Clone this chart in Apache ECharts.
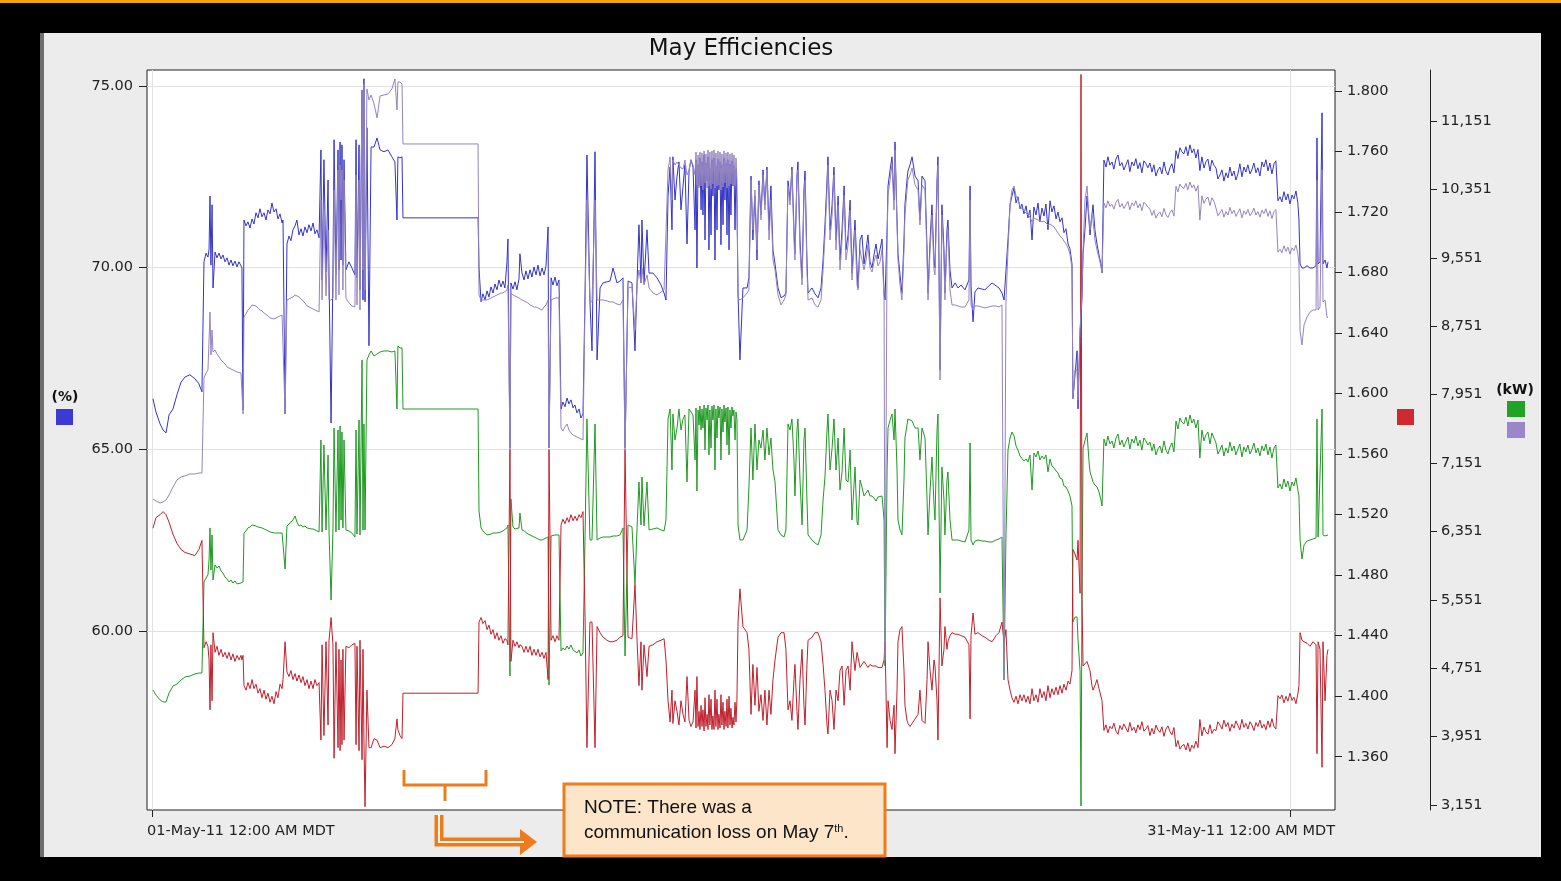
<!DOCTYPE html>
<html>
<head>
<meta charset="utf-8">
<title>May Efficiencies</title>
<script src="https://cdn.jsdelivr.net/npm/echarts@6/dist/echarts.min.js"></script>
<style>
  html, body { margin: 0; padding: 0; background: #000; }
  #chart { width: 1561px; height: 881px; }
</style>
</head>
<body>
<div id="chart"></div>
<script>
// Hours elapsed since 01-May-11 12:00 AM MDT (shared time stamps of all four traces)
const hours = [
  0.6,2.5,5.1,7.0,8.9,10.8,13.3,15.8,18.4,20.9,24.0,27.2,29.7,31.6,
  32.9,34.2,35.4,36.1,36.7,37.3,38.0,38.6,39.9,41.1,42.4,43.7,44.9,46.2,47.5,48.7,50.0,51.2,52.5,53.8,55.0,56.3,56.9,57.6,
  58.2,59.5,60.7,62.0,63.3,64.5,65.8,67.1,68.3,69.6,70.9,72.1,73.4,74.7,75.9,77.2,78.5,79.7,81.0,82.3,82.9,84.2,
  85.4,86.7,87.9,89.2,90.5,91.7,93.0,94.3,95.5,96.8,98.1,99.3,100.6,101.9,103.1,104.4,105.7,
  106.9,107.6,108.8,110.1,111.4,112.0,113.3,114.5,115.2,116.4,117.7,118.3,119.0,119.6,120.2,120.8,121.5,122.7,124.6,126.5,128.4,129.1,129.7,131.0,131.6,132.9,
  133.5,134.1,134.8,136.0,137.3,138.6,140.5,142.4,144.3,146.8,149.3,151.8,153.7,155.0,155.6,156.9,158.2,
  158.8,206.3,
  206.9,208.2,209.4,210.7,212.0,213.2,214.5,215.8,217.0,218.3,219.5,220.8,222.1,223.3,224.6,225.2,226.5,227.1,228.4,229.7,
  230.9,232.2,232.8,234.1,235.4,236.6,237.9,239.2,240.4,241.7,243.0,244.2,245.5,246.8,248.0,249.3,250.6,251.2,252.5,253.7,
  255.0,256.2,257.5,
  258.8,260.0,261.3,262.6,263.8,265.1,266.4,267.6,268.9,270.2,271.4,272.7,
  274.0,275.2,277.1,278.4,280.3,281.6,283.5,285.4,287.9,289.8,291.7,294.2,296.1,298.0,299.3,301.2,303.7,305.6,306.9,308.1,309.4,310.0,311.3,313.2,314.5,317.0,319.5,322.1,324.0,
  325.2,326.5,327.8,329.0,329.6,330.9,332.2,333.4,334.7,336.0,337.2,338.5,339.8,341.0,342.3,
  343.6,344.2,344.8,345.5,346.1,346.7,347.4,348.0,348.6,349.3,349.9,350.5,351.2,351.8,352.4,353.0,353.7,354.3,354.9,355.6,
  356.2,356.8,357.5,358.1,358.7,359.4,360.0,360.6,361.3,361.9,362.5,363.2,363.8,364.4,365.1,365.7,366.3,367.0,367.6,368.2,
  368.9,369.5,370.1,
  370.8,372.0,
  373.9,376.5,377.7,
  379.0,380.2,381.5,382.8,384.0,385.3,386.6,387.8,389.1,390.4,391.6,392.9,394.2,396.1,398.0,399.9,401.1,
  402.4,403.7,404.9,406.2,406.8,408.1,408.7,410.0,411.3,412.5,413.2,414.4,415.1,417.6,419.5,421.4,423.3,424.6,
  425.8,427.1,427.7,429.0,430.3,431.5,432.8,434.1,435.3,436.6,437.9,439.1,440.4,441.7,442.9,444.8,446.1,446.7,448.0,449.2,450.5,451.8,453.0,454.3,455.6,456.8,458.1,459.4,460.6,461.9,463.2,463.8,
  465.1,465.7,467.0,468.2,469.5,470.1,471.4,472.0,473.3,474.5,475.8,476.4,477.7,478.3,479.6,480.9,482.8,484.7,485.9,487.2,489.1,490.4,491.0,492.3,493.5,494.8,495.4,496.7,497.3,498.6,499.8,501.1,501.7,503.0,503.6,504.9,506.2,508.1,510.0,511.9,514.4,516.9,517.6,518.2,519.5,520.7,522.6,525.1,527.0,529.6,531.5,534.0,535.9,537.8,539.1,
  540.3,541.6,542.9,544.1,545.4,546.7,547.9,549.2,550.4,551.7,553.0,554.2,555.5,556.8,558.0,559.3,560.6,561.8,563.1,564.4,
  565.6,566.9,568.2,569.4,570.7,572.0,573.2,574.5,575.8,577.0,578.3,579.6,580.8,582.1,
  582.7,584.0,585.3,585.9,587.2,587.8,588.4,589.1,590.3,591.6,592.8,593.5,594.7,595.4,596.6,597.9,599.2,600.4,601.1,
  602.3,603.6,604.8,606.1,607.4,608.6,609.9,611.2,612.4,613.7,614.9,616.2,617.5,618.7,620.0,621.3,622.5,623.8,625.1,626.3,
  627.6,628.9,630.1,631.4,632.7,633.9,635.2,636.5,637.7,639.0,640.3,641.5,642.8,644.1,645.3,646.6,647.9,649.1,650.4,651.6,
  652.9,654.2,655.4,656.7,658.0,659.2,660.5,661.8,663.0,664.3,665.6,666.8,668.1,669.4,670.6,671.9,673.2,674.4,675.7,677.0,
  678.2,679.5,680.8,682.0,683.3,684.6,685.8,687.1,688.3,689.6,690.9,692.1,693.4,694.7,695.9,697.2,698.5,699.7,701.0,702.3,
  703.5,704.8,706.1,707.3,708.6,709.9,711.1,712.4,713.7,714.9,716.2,717.5,718.7,720.0,721.3,722.5,723.8,725.0,
  725.7,726.4,727.6,728.9,730.8,732.7,734.6,736.5,737.1,737.8,739.0,740.3,740.9,742.2,743.4,744.1
];

// Efficiency, % (blue, left axis)
const efficiencyPct = [
  66.39,66.03,65.70,65.53,65.45,65.95,66.11,66.50,66.85,66.99,67.05,66.94,66.80,66.58,
  70.16,70.40,70.29,70.49,71.97,70.07,71.73,69.44,70.43,70.27,70.40,70.24,70.35,70.16,70.27,70.07,70.21,70.05,70.18,70.02,70.16,70.05,69.99,66.08,
  71.31,71.15,71.26,71.09,71.34,71.20,71.51,71.37,71.62,71.40,71.51,71.31,71.59,71.48,71.78,71.53,71.62,71.34,71.48,71.23,71.31,65.97,
  70.65,70.87,70.74,71.04,71.15,71.31,70.90,71.07,70.87,71.12,70.96,71.18,71.01,71.23,70.93,71.04,70.82,
  73.24,69.66,72.97,69.88,72.41,69.80,65.72,69.94,73.52,69.80,73.24,69.94,73.46,70.21,73.38,70.07,72.97,69.94,70.16,69.99,69.80,73.52,69.72,73.38,69.39,74.89,
  69.11,75.20,69.06,73.85,67.85,73.32,73.32,73.57,73.24,73.19,73.24,73.05,72.91,71.31,73.05,73.02,73.05,
  71.37,71.37,
  69.99,69.06,69.28,69.11,69.36,69.19,69.47,69.30,69.55,69.39,69.66,69.47,69.63,69.44,70.16,70.79,65.04,69.58,69.41,69.61,
  69.39,69.69,70.38,69.85,69.66,69.91,69.69,69.94,69.74,70.02,69.80,70.07,69.77,69.99,69.80,70.05,71.12,65.04,69.72,69.52,
  69.74,69.50,69.66,
  66.11,66.30,66.17,66.41,66.25,66.36,66.14,66.22,66.00,66.11,65.86,65.97,
  69.30,73.10,69.06,67.71,73.19,67.46,69.44,69.58,69.61,69.63,69.99,69.58,69.63,69.72,65.04,69.63,69.58,67.71,69.58,71.18,69.58,71.31,69.58,71.04,69.85,69.85,69.72,69.52,69.30,
  69.11,71.97,72.77,71.04,73.05,71.86,72.52,72.91,71.59,72.25,72.83,70.65,72.66,72.97,72.77,
  71.04,72.97,69.99,72.83,72.25,73.02,71.59,72.91,71.45,73.10,70.76,72.88,72.39,73.05,70.49,72.75,70.90,72.97,71.97,73.02,
  70.21,72.80,71.04,72.99,72.14,72.91,70.63,72.83,71.18,73.02,71.86,72.88,70.90,72.97,70.49,72.85,71.45,72.94,72.25,72.80,
  71.04,72.69,71.73,
  69.30,67.46,
  69.44,69.44,69.72,
  72.52,70.76,71.97,70.21,72.39,71.45,72.69,71.73,72.77,71.04,72.25,70.49,70.10,69.44,69.17,69.22,69.30,
  72.39,71.86,72.77,71.04,70.38,72.55,72.91,70.76,69.72,72.14,72.66,70.21,69.30,69.44,69.28,69.17,69.44,70.21,
  71.18,72.41,73.05,71.04,71.73,72.77,70.76,71.97,70.21,71.04,72.25,70.49,70.90,71.86,69.85,71.31,69.94,69.44,70.76,70.90,70.10,70.49,70.90,70.16,69.99,70.35,70.65,70.24,70.49,70.79,69.30,69.11,
  71.04,72.25,72.69,73.05,71.86,73.46,71.31,70.38,69.80,69.30,70.76,71.73,72.41,72.66,72.83,73.05,72.52,72.39,71.31,72.52,72.39,70.49,69.30,70.76,71.73,70.21,69.99,72.41,73.05,67.18,71.73,70.49,69.30,71.04,71.31,69.94,69.44,69.58,69.44,69.52,69.39,69.66,72.25,69.52,68.51,69.33,69.44,69.41,69.39,69.50,69.58,69.50,69.44,69.30,69.11,
  69.11,70.76,71.73,71.97,72.19,71.78,71.95,71.62,71.75,71.48,71.70,71.37,71.59,70.76,71.67,71.45,71.78,71.26,71.64,71.42,
  71.75,71.04,71.84,71.53,71.70,71.34,71.53,71.26,71.37,70.96,71.07,70.65,70.52,70.10,
  66.39,67.05,67.71,66.11,68.26,68.26,69.11,70.38,71.04,71.97,71.31,70.90,71.45,71.73,71.04,70.65,70.35,70.10,69.85,
  72.96,72.77,73.05,72.82,72.91,72.71,72.99,73.10,72.80,72.89,72.69,72.83,72.97,72.64,72.91,72.80,73.00,72.72,72.89,72.61,
  72.94,72.86,72.75,72.88,72.63,72.83,72.52,72.69,72.77,72.58,72.91,72.66,72.55,72.75,72.86,72.61,73.22,73.00,73.30,73.19,
  73.13,73.33,73.08,73.38,73.16,73.27,73.02,73.25,72.67,73.05,72.74,72.91,72.99,72.66,72.96,72.82,72.74,72.44,72.55,72.69,
  72.38,72.61,72.47,72.77,72.52,72.66,72.41,72.58,72.86,72.50,72.77,72.63,72.83,72.58,72.69,72.88,72.61,72.75,72.52,72.91,
  72.77,72.97,72.66,72.88,72.58,72.86,72.94,71.84,71.95,71.81,72.09,71.86,72.03,71.75,72.00,71.89,72.11,71.78,
  71.31,70.10,69.99,69.99,70.05,69.99,69.99,70.05,73.57,70.10,70.16,74.26,70.10,70.21,69.99,70.16
];

// Purple kW trace (outer right axis)
const kwPurple = [
  6730,6706,6683,6695,6718,6776,6870,6952,6987,6999,7022,7022,7034,7034,
  8145,8203,8239,8589,8917,8414,8706,8449,8472,8426,8391,8355,8332,8309,8274,8262,8250,8227,8227,8215,8203,8203,8180,7724,
  8858,8894,8940,8964,8999,8987,8987,8964,8940,8929,8905,8894,8870,8847,8835,8835,8847,8858,8870,8882,8894,7724,
  9057,9069,9081,9093,9116,9139,9093,9069,9046,9022,8987,8975,8964,8952,8940,8929,8917,
  10227,9057,10110,9104,9876,9057,9057,9081,10344,9057,10578,9116,10636,10227,10578,9174,10461,9081,9022,8987,8975,10519,8999,10461,8940,11513,
  9408,11584,9174,11525,11396,11455,11350,11186,11443,11455,11467,11525,11642,11279,11607,11607,11584,
  10882,10882,
  9116,9057,9057,9057,9057,9069,9081,9093,9104,9116,9139,9139,9139,9151,9174,9233,7303,9139,9116,9104,
  9081,9081,9081,9057,9046,9034,9022,8999,8987,8975,8975,8964,8952,8940,8975,8999,9057,7326,9057,9069,
  9081,9081,9081,
  7560,7525,7572,7607,7537,7502,7478,7467,7455,7443,7432,7420,
  9034,10227,9034,9034,10227,9057,9057,9057,9046,9034,9034,9010,8999,9057,7303,9198,9209,8706,9233,9408,9256,9432,9233,9350,9198,9139,9116,9151,9174,
  9174,10578,10730,10227,10695,10636,10671,10636,10601,10589,10695,10519,10578,10695,10636,
  10519,10788,10402,10753,10367,10788,10391,10777,10344,10800,10426,10765,10367,10812,10391,10788,10356,10800,10414,10812,
  10367,10777,10391,10800,10402,10788,10344,10765,10379,10800,10426,10777,10367,10788,10391,10765,10414,10777,10402,10753,
  10391,10718,10461,
  9081,9057,
  9081,9139,9174,
  10461,9876,10344,9642,10402,9993,10519,10110,10578,9759,10227,9525,9408,9116,8999,9057,9116,
  10391,10168,10578,9759,9525,10461,10578,9642,9233,10227,10461,9408,9057,9081,8999,8975,9057,9408,
  9817,10344,10636,9759,10051,10519,9642,10168,9408,9759,10285,9525,9701,10110,9291,9876,9233,9174,9642,9642,9408,9525,9701,9432,9385,9502,9584,9455,9502,9642,9057,4835,
  9759,10285,10461,10636,10110,10812,9934,9525,9233,9057,9642,10051,10344,10461,10519,10601,10402,10344,9934,10402,10344,9525,9057,9642,10051,9408,9350,10344,10636,8121,10051,9525,9057,9759,9876,9174,8999,8999,8987,8975,8975,9057,10227,8999,8940,8987,8987,8975,8964,8975,8987,8987,8975,8999,4613,
  9034,9642,10168,10344,10391,10274,10227,10157,10122,10098,10075,10051,10028,9970,10016,10005,9993,9981,9970,9981,
  9993,9934,9946,9934,9911,9876,9841,9806,9782,9747,9712,9665,9595,9432,
  7899,8239,8239,7888,8695,8695,9174,9642,10227,10391,10051,9876,10051,9993,9759,9642,9549,9455,9373,
  10193,10135,10217,10152,10176,10119,10201,10234,10143,10184,10127,10168,10209,10111,10193,10160,10217,10135,10184,10102,
  10201,10176,10143,10120,10047,10104,10014,10063,10088,10030,10129,10055,10022,10079,10112,10038,10387,10322,10412,10379,
  10363,10420,10346,10436,10371,10404,10330,10395,9991,10276,10186,10235,10260,10161,10252,10211,10132,10042,10075,10116,
  10026,10091,10050,10141,10067,10108,10034,10083,10124,10018,10100,10059,10116,10042,10075,10132,10050,10091,10026,10108,
  10067,10124,10034,10100,10009,10091,10116,9617,9650,9609,9691,9626,9675,9593,9667,9634,9699,9601,
  9478,8695,8531,8765,8858,8917,8940,8940,10461,8940,8975,10578,9034,9057,8858,8847
];

// Green kW trace (outer right axis)
const kwGreen = [
  4496,4437,4379,4356,4356,4461,4542,4566,4613,4648,4659,4683,4694,4694,
  5759,5806,5841,6016,6391,5899,6309,5782,5958,5923,5946,5888,5864,5817,5794,5759,5782,5747,5771,5736,5759,5747,5747,5759,
  6332,6356,6391,6402,6426,6414,6414,6402,6402,6391,6379,6367,6356,6344,6332,6332,6332,6332,6332,6332,6332,5911,
  6414,6437,6426,6484,6531,6461,6414,6426,6402,6414,6391,6391,6379,6379,6367,6356,6344,
  7420,6344,7362,6367,7244,6356,5548,6367,7560,6344,7537,6367,7584,6484,7513,6391,7420,6367,6356,6332,6285,7537,6320,7654,6309,8355,
  6367,7607,6367,8355,8414,8461,8402,8426,8449,8461,8461,8449,8461,7782,8519,8496,8496,
  7782,7782,
  6589,6391,6356,6332,6309,6320,6320,6332,6332,6332,6344,6344,6356,6367,6391,6426,4659,6730,6402,6379,
  6367,6391,6566,6367,6356,6344,6320,6309,6297,6285,6274,6262,6250,6250,6262,6274,6285,4554,6297,6309,
  6309,6309,6309,
  4952,4987,4964,5010,4975,5022,4964,4987,4929,4964,4893,4929,
  6285,7666,6250,6250,7607,6250,6274,6285,6285,6285,6297,6297,6309,6391,4893,6426,6402,5736,6391,6929,6426,6987,6414,6929,6367,6379,6391,6367,6356,
  6484,7666,7782,7069,7724,7420,7560,7782,7537,7666,7712,6929,7782,7771,7712,
  7186,7794,6823,7771,7595,7817,7537,7782,7560,7829,7303,7794,7654,7829,7244,7771,7326,7817,7654,7829,
  7069,7782,7443,7817,7677,7806,7186,7782,7513,7829,7630,7794,7362,7806,7244,7771,7560,7806,7701,7771,
  7420,7747,7665,
  6426,6250,
  6250,6367,6870,
  7560,6952,7607,7069,7420,7326,7537,7186,7560,7244,7443,7069,6929,6367,6309,6285,6367,
  7607,7537,7666,7186,6765,7537,7666,6952,6426,7420,7560,6718,6309,6250,6215,6192,6309,6718,
  6987,7537,7724,7069,7326,7666,7069,7443,6835,7046,7560,6952,6929,7303,6484,7104,6461,6426,6952,6870,6765,6800,6835,6765,6765,6741,6706,6753,6765,6765,6484,4777,
  7069,7560,7654,7724,7420,7782,7069,6484,6367,6309,6952,7443,7595,7666,7654,7642,7560,7560,7186,7560,7443,6718,6309,6835,7221,6660,6484,7537,7724,5630,7104,6718,6309,6952,7046,6484,6250,6250,6250,6238,6227,6367,7385,6250,6192,6238,6250,6238,6238,6227,6227,6250,6262,6285,4613,
  6285,7303,7443,7513,7467,7350,7303,7233,7244,7174,7198,7163,7244,6835,7268,7221,7291,7186,7233,7198,
  7244,7046,7198,7116,7093,7058,7034,6975,6964,6882,6870,6823,6765,6648,
  5291,5349,5349,5081,4718,3139,5548,7326,7303,7502,7186,7046,6975,6929,6893,6870,6812,6718,6648,
  7431,7349,7466,7373,7408,7326,7443,7490,7361,7419,7338,7396,7454,7314,7431,7384,7466,7349,7419,7302,
  7443,7408,7361,7397,7292,7373,7245,7315,7350,7268,7409,7303,7257,7338,7385,7280,7642,7548,7677,7630,
  7607,7688,7583,7712,7618,7665,7560,7653,7209,7537,7409,7479,7514,7373,7502,7444,7385,7256,7303,7361,
  7233,7326,7268,7397,7291,7350,7245,7315,7373,7221,7338,7280,7361,7256,7303,7385,7268,7326,7233,7350,
  7291,7373,7245,7338,7209,7326,7361,6858,6905,6846,6963,6870,6940,6823,6928,6881,6975,6835,
  6765,6250,6028,6192,6238,6250,6262,6274,7666,6285,6297,7782,6309,6297,6309,6309
];

// Red ratio trace (inner right axis)
const ratioRed = [
  1.511,1.518,1.520,1.522,1.520,1.515,1.507,1.501,1.497,1.495,1.494,1.493,1.497,1.503,
  1.432,1.436,1.433,1.424,1.391,1.434,1.397,1.442,1.429,1.433,1.427,1.431,1.426,1.429,1.425,1.429,1.424,1.428,1.423,1.427,1.424,1.427,1.424,1.427,
  1.407,1.404,1.409,1.405,1.411,1.405,1.408,1.402,1.405,1.399,1.404,1.398,1.402,1.396,1.400,1.395,1.403,1.399,1.408,1.405,1.411,1.436,
  1.416,1.413,1.417,1.411,1.415,1.410,1.414,1.409,1.413,1.407,1.411,1.405,1.410,1.405,1.411,1.407,1.409,
  1.371,1.434,1.374,1.436,1.381,1.437,1.452,1.434,1.359,1.436,1.366,1.431,1.364,1.424,1.368,1.431,1.371,1.433,1.432,1.434,1.435,1.368,1.433,1.364,1.437,1.358,
  1.431,1.371,1.327,1.404,1.366,1.366,1.372,1.371,1.366,1.367,1.366,1.368,1.372,1.385,1.378,1.374,1.372,
  1.402,1.402,
  1.449,1.452,1.448,1.450,1.444,1.447,1.441,1.444,1.438,1.442,1.437,1.440,1.435,1.438,1.437,1.434,1.563,1.423,1.437,1.433,
  1.436,1.432,1.434,1.433,1.429,1.433,1.429,1.433,1.427,1.431,1.427,1.431,1.426,1.429,1.425,1.429,1.411,1.563,1.437,1.440,
  1.436,1.440,1.437,
  1.513,1.517,1.514,1.518,1.515,1.520,1.516,1.519,1.516,1.520,1.518,1.522,
  1.452,1.366,1.449,1.449,1.366,1.446,1.442,1.439,1.437,1.436,1.436,1.437,1.439,1.440,1.563,1.439,1.438,1.474,1.437,1.407,1.436,1.404,1.434,1.413,1.433,1.434,1.436,1.437,1.438,
  1.424,1.397,1.383,1.404,1.382,1.397,1.390,1.381,1.397,1.388,1.383,1.413,1.384,1.380,1.383,
  1.404,1.379,1.413,1.380,1.390,1.378,1.394,1.380,1.391,1.377,1.399,1.380,1.388,1.378,1.401,1.381,1.398,1.378,1.387,1.378,
  1.404,1.380,1.398,1.378,1.388,1.379,1.401,1.381,1.396,1.378,1.390,1.380,1.398,1.379,1.400,1.381,1.392,1.379,1.386,1.381,
  1.396,1.383,1.398,
  1.449,1.471,
  1.446,1.442,1.431,
  1.388,1.421,1.394,1.419,1.390,1.401,1.384,1.404,1.381,1.404,1.388,1.411,1.424,1.439,1.442,1.442,1.431,
  1.391,1.397,1.384,1.411,1.421,1.390,1.378,1.411,1.431,1.394,1.381,1.421,1.437,1.439,1.442,1.442,1.436,1.421,
  1.404,1.381,1.375,1.404,1.397,1.378,1.404,1.397,1.417,1.420,1.394,1.417,1.420,1.404,1.436,1.417,1.429,1.430,1.419,1.420,1.423,1.421,1.419,1.421,1.420,1.419,1.420,1.419,1.420,1.419,1.424,1.436,
  1.366,1.397,1.384,1.378,1.394,1.362,1.404,1.436,1.444,1.446,1.417,1.394,1.384,1.382,1.380,1.382,1.385,1.388,1.404,1.384,1.382,1.411,1.436,1.417,1.404,1.424,1.420,1.397,1.371,1.465,1.420,1.431,1.446,1.431,1.436,1.440,1.442,1.441,1.441,1.440,1.439,1.434,1.385,1.440,1.455,1.441,1.442,1.440,1.439,1.437,1.436,1.440,1.442,1.449,1.436,
  1.444,1.411,1.404,1.399,1.396,1.400,1.395,1.401,1.397,1.401,1.396,1.400,1.395,1.405,1.397,1.401,1.396,1.405,1.399,1.403,
  1.397,1.407,1.399,1.405,1.401,1.406,1.401,1.407,1.402,1.408,1.404,1.410,1.408,1.417,
  1.497,1.494,1.490,1.503,1.468,1.811,1.464,1.420,1.421,1.423,1.419,1.417,1.407,1.404,1.407,1.411,1.405,1.404,1.397,
  1.3774,1.3811,1.3758,1.3801,1.3785,1.3822,1.3769,1.3748,1.3806,1.3779,1.3817,1.3790,1.3763,1.3827,1.3774,1.3795,1.3758,1.3811,1.3779,1.3832,
  1.3769,1.3785,1.3806,1.3740,1.3788,1.3750,1.3809,1.3777,1.3761,1.3798,1.3735,1.3782,1.3804,1.3766,1.3745,1.3793,1.3666,1.3708,1.3650,1.3671,
  1.3682,1.3644,1.3692,1.3634,1.3676,1.3655,1.3703,1.3660,1.3846,1.3738,1.3797,1.3765,1.3749,1.3812,1.3754,1.3781,1.3773,1.3831,1.3810,1.3783,
  1.3842,1.3799,1.3826,1.3768,1.3815,1.3789,1.3837,1.3805,1.3778,1.3847,1.3794,1.3821,1.3783,1.3831,1.3810,1.3773,1.3826,1.3799,1.3842,1.3789,
  1.3815,1.3778,1.3837,1.3794,1.3852,1.3799,1.3783,1.4004,1.3983,1.4009,1.3956,1.3999,1.3967,1.4020,1.3972,1.3993,1.3951,1.4015,
  1.407,1.442,1.437,1.436,1.435,1.433,1.436,1.434,1.362,1.436,1.431,1.353,1.436,1.397,1.427,1.431
];

// Axis ticks and labels
const dateTickHours = [0, 720];
const dateTickLabels = ['01-May-11 12:00 AM MDT', '31-May-11 12:00 AM MDT'];
const pctTicks = [60, 65, 70, 75];
const ratioTicks = [1.36, 1.40, 1.44, 1.48, 1.52, 1.56, 1.60, 1.64, 1.68, 1.72, 1.76, 1.80];
const kwTicks = [3151, 3951, 4751, 5551, 6351, 7151, 7951, 8751, 9551, 10351, 11151];

const X_MIN = -3.16, X_MAX = 748.5;

const TICK_FONT = 'DejaVu Sans, Verdana, sans-serif';
const NOTE_FONT = '"Liberation Sans Narrow", "Arial Narrow", "Liberation Sans", sans-serif';
const ORANGE = '#ee7c1c';

const C_BLUE = '#3434c9';
const C_PURPLE = '#9484c0';
const C_GREEN = '#1f9a22';
const C_RED = '#c0202c';

function withCommas(v) {
  return String(Math.round(v)).replace(/\B(?=(\d{3})+(?!\d))/g, ',');
}
function pairs(values) {
  return hours.map((h, i) => [h, values[i]]);
}
function lineSeries(name, values, yAxisIndex, color) {
  return {
    name: name,
    type: 'line',
    xAxisIndex: 0,
    yAxisIndex: yAxisIndex,
    data: pairs(values),
    showSymbol: false,
    symbol: 'none',
    silent: true,
    lineStyle: { width: 1, color: color },
    itemStyle: { color: color },
    z: 3
  };
}

const tickLabel = { fontFamily: TICK_FONT, fontSize: 14.5, color: '#222' };

const chart = echarts.init(document.getElementById('chart'), null, { renderer: 'canvas' });

chart.setOption({
  animation: false,
  backgroundColor: '#000',
  grid: {
    left: 147, right: 226, top: 70, bottom: 71,
    show: true, backgroundColor: '#ffffff', borderColor: '#222', borderWidth: 1,
    containLabel: false, outerBoundsMode: 'none'
  },
  xAxis: [
    {
      type: 'value', min: X_MIN, max: X_MAX, position: 'bottom',
      axisLine: { show: false, onZero: false },
      axisTick: { show: true, customValues: dateTickHours, length: 7, lineStyle: { color: '#222' } },
      axisLabel: { show: false },
      splitLine: { show: true, lineStyle: { color: '#e2e2e2', width: 1 } }
    },
    {
      type: 'value', min: X_MIN, max: X_MAX, position: 'bottom',
      axisLine: { show: false, onZero: false }, axisTick: { show: false }, splitLine: { show: false },
      axisLabel: Object.assign({
        customValues: [X_MIN], align: 'left', margin: 14,
        showMinLabel: true, formatter: () => dateTickLabels[0]
      }, tickLabel)
    },
    {
      type: 'value', min: X_MIN, max: X_MAX, position: 'bottom',
      axisLine: { show: false, onZero: false }, axisTick: { show: false }, splitLine: { show: false },
      axisLabel: Object.assign({
        customValues: [X_MAX], align: 'right', margin: 14,
        showMaxLabel: true, formatter: () => dateTickLabels[1]
      }, tickLabel)
    }
  ],
  yAxis: [
    {
      type: 'value', min: 55.07, max: 75.44, position: 'left',
      axisLine: { show: false, onZero: false },
      axisTick: { show: true, customValues: pctTicks, length: 8, lineStyle: { color: '#222' } },
      axisLabel: Object.assign({ customValues: pctTicks, margin: 14, formatter: v => v.toFixed(2) }, tickLabel),
      splitLine: { show: true, lineStyle: { color: '#e2e2e2', width: 1 } }
    },
    {
      type: 'value', min: 1.3248, max: 1.8139, position: 'right',
      axisLine: { show: false, onZero: false },
      axisTick: { show: true, customValues: ratioTicks, length: 7, lineStyle: { color: '#222' } },
      axisLabel: Object.assign({ customValues: ratioTicks, margin: 12, formatter: v => v.toFixed(3) }, tickLabel),
      splitLine: { show: false }
    },
    {
      type: 'value', min: 3092, max: 11747, position: 'right', offset: 95,
      axisLine: { show: true, onZero: false, lineStyle: { color: '#222', width: 1 } },
      axisTick: { show: true, customValues: kwTicks, length: 7, lineStyle: { color: '#222' } },
      axisLabel: Object.assign({ customValues: kwTicks, margin: 11, formatter: v => withCommas(v) }, tickLabel),
      splitLine: { show: false }
    }
  ],
  series: [
    lineSeries('kW', kwGreen, 2, C_GREEN),
    lineSeries('Ratio', ratioRed, 1, C_RED),
    lineSeries('Efficiency (%)', efficiencyPct, 0, C_BLUE),
    lineSeries('kW ', kwPurple, 2, C_PURPLE)
  ],
  graphic: [
    // page chrome
    { type: 'rect', z: -20, silent: true, shape: { x: 0, y: 0, width: 1561, height: 3 }, style: { fill: '#f2a20c' } },
    { type: 'rect', z: -20, silent: true, shape: { x: 44, y: 33, width: 1497, height: 824 }, style: { fill: '#ececec' } },
    { type: 'rect', z: -20, silent: true, shape: { x: 40, y: 33, width: 4, height: 824 }, style: { fill: '#6e6e6e' } },
    // title
    { type: 'text', z: 10, silent: true, x: 741, y: 49,
      style: { text: 'May Efficiencies', align: 'center', verticalAlign: 'middle',
               fontFamily: TICK_FONT, fontSize: 23, fill: '#111' } },
    // axis keys
    { type: 'text', z: 10, silent: true, x: 65, y: 397,
      style: { text: '(%)', align: 'center', verticalAlign: 'middle', fontFamily: TICK_FONT,
               fontSize: 14, fontWeight: 'bold', fill: '#111' } },
    { type: 'rect', z: 10, silent: true, shape: { x: 56, y: 409, width: 17, height: 16 }, style: { fill: '#3b3bd3' } },
    { type: 'rect', z: 10, silent: true, shape: { x: 1397, y: 409, width: 17, height: 16 }, style: { fill: '#cf2a2e' } },
    { type: 'text', z: 10, silent: true, x: 1515, y: 390,
      style: { text: '(kW)', align: 'center', verticalAlign: 'middle', fontFamily: TICK_FONT,
               fontSize: 14, fontWeight: 'bold', fill: '#111' } },
    { type: 'rect', z: 10, silent: true, shape: { x: 1507, y: 401, width: 18, height: 16 }, style: { fill: '#23a326' } },
    { type: 'rect', z: 10, silent: true, shape: { x: 1507, y: 422, width: 18, height: 16 }, style: { fill: '#9a86c9' } },
    // bracket over the outage period
    { type: 'polyline', z: 20, silent: true, shape: { points: [[404, 770], [404, 785], [486, 785], [486, 770]] },
      style: { stroke: ORANGE, lineWidth: 3, fill: null } },
    { type: 'line', z: 20, silent: true, shape: { x1: 445, y1: 785, x2: 445, y2: 801 },
      style: { stroke: ORANGE, lineWidth: 3 } },
    // arrow to the note
    { type: 'polyline', z: 20, silent: true, shape: { points: [[439, 815], [439, 842], [522, 842]] },
      style: { stroke: ORANGE, lineWidth: 9, fill: null, lineJoin: 'miter' } },
    { type: 'polyline', z: 21, silent: true, shape: { points: [[439, 815], [439, 842], [524, 842]] },
      style: { stroke: '#fff4e8', lineWidth: 2, fill: null, lineJoin: 'miter' } },
    { type: 'polygon', z: 20, silent: true, shape: { points: [[520, 829], [537, 842], [520, 855]] },
      style: { fill: ORANGE } },
    // note box
    { type: 'rect', z: 20, silent: true, shape: { x: 564, y: 784, width: 321, height: 72 },
      style: { fill: '#fde5c9', stroke: ORANGE, lineWidth: 3 } },
    { type: 'text', z: 22, silent: true, x: 584, y: 808,
      style: { text: 'NOTE: There was a', align: 'left', verticalAlign: 'middle',
               fontFamily: NOTE_FONT, fontSize: 19, fill: '#111' } },
    { type: 'text', z: 22, silent: true, x: 584, y: 833,
      style: {
        text: '{n|communication loss on May 7}{s|th}{n|.}',
        align: 'left', verticalAlign: 'middle',
        rich: {
          n: { fontFamily: NOTE_FONT, fontSize: 19, lineHeight: 22, fill: '#111' },
          s: { fontFamily: NOTE_FONT, fontSize: 11, lineHeight: 22, verticalAlign: 'top', padding: [1, 0, 0, 0], fill: '#111' }
        }
      } }
  ]
});
</script>
</body>
</html>
